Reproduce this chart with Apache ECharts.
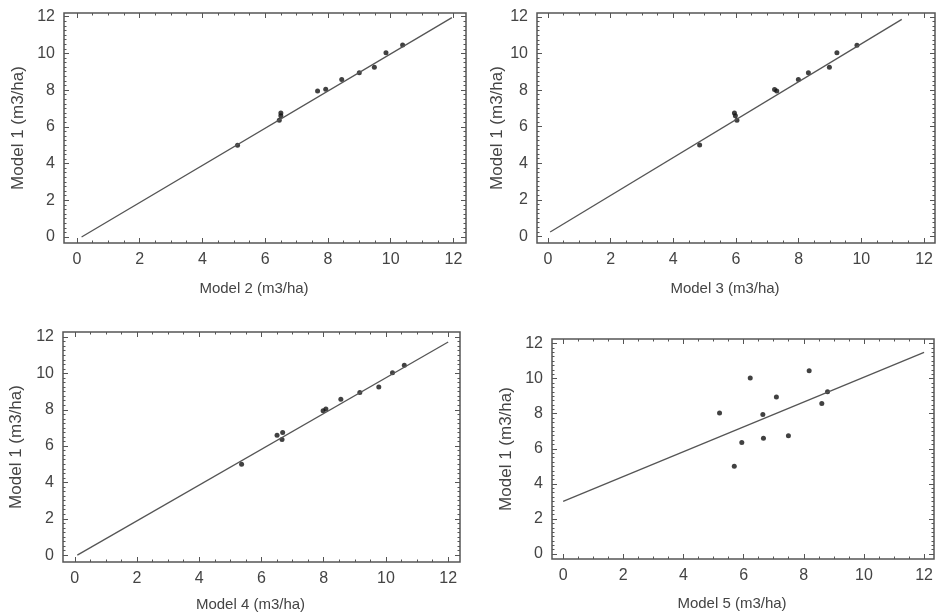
<!DOCTYPE html>
<html>
<head>
<meta charset="utf-8">
<script src="https://cdn.jsdelivr.net/npm/echarts@6/dist/echarts.min.js"></script>
<style>
  html, body { margin: 0; padding: 0; background: #fff; }
  #chart { width: 937px; height: 616px; }
</style>
</head>
<body>
<div id="chart"></div>
<script>
  // Model 1 (y) values, the same for every panel
  var model1 = [5.0, 6.36, 6.6, 6.75, 7.95, 8.04, 8.58, 8.95, 9.25, 10.04, 10.45];
  // other models (x), same order as model1
  var model2 = [5.12, 6.45, 6.5, 6.5, 7.67, 7.93, 8.44, 9.0, 9.48, 9.85, 10.38];
  var model3 = [4.84, 6.03, 5.98, 5.95, 7.3, 7.23, 7.99, 8.31, 8.98, 9.22, 9.86];
  var model4 = [5.36, 6.66, 6.5, 6.68, 7.98, 8.07, 8.55, 9.16, 9.77, 10.21, 10.59];
  var model5 = [5.69, 5.94, 6.66, 7.49, 6.64, 5.2, 8.6, 7.09, 8.79, 6.22, 8.18];

  // fitted lines, end points
  var fit2 = [[0.15, 0], [11.95, 11.95]];
  var fit3 = [[0.07, 0.24], [11.29, 11.87]];
  var fit4 = [[0.08, 0], [12.0, 11.73]];
  var fit5 = [[0, 3.0], [12.0, 11.5]];

  var tickLabels = [0, 2, 4, 6, 8, 10, 12];

  var xMinor = [], yMinor = [];
  for (var t = 0; t <= 12; t += 0.5) xMinor.push(t);
  for (var t = 0; t <= 12; t += 0.25) yMinor.push(t);

  var font = "'Liberation Sans', Arial, sans-serif";
  var ink = '#444';

  var panels = [
    {x: model2, fit: fit2, name: 'Model 2 (m3/ha)', grid: {left: 64, top: 13, width: 402, height: 230},
      xr: [-0.41, 12.4], yr: [-0.33, 12.2], xGap: 38, yGap: 37},
    {x: model3, fit: fit3, name: 'Model 3 (m3/ha)', grid: {left: 537, top: 13, width: 398, height: 230},
      xr: [-0.35, 12.35], yr: [-0.36, 12.22], xGap: 38, yGap: 28},
    {x: model4, fit: fit4, name: 'Model 4 (m3/ha)', grid: {left: 63, top: 332, width: 397, height: 230},
      xr: [-0.38, 12.38], yr: [-0.38, 12.28], xGap: 35, yGap: 38},
    {x: model5, fit: fit5, name: 'Model 5 (m3/ha)', grid: {left: 552, top: 339, width: 382, height: 220},
      xr: [-0.37, 12.33], yr: [-0.28, 12.26], xGap: 37, yGap: 37}
  ];

  // one axis side: main (labels + major ticks) or minor ticks only
  function axis(g, pos, range, ticks, len, labels, extra) {
    var a = {
      type: 'value', gridIndex: g, position: pos, min: range[0], max: range[1],
      axisLine: {show: false, onZero: false},
      splitLine: {show: false},
      axisTick: {show: true, inside: true, length: len, customValues: ticks,
        lineStyle: {color: '#555', width: 1}},
      axisLabel: labels ? {customValues: tickLabels, color: ink, fontFamily: font, fontSize: 16, margin: 9}
        : {show: false}
    };
    return Object.assign(a, extra || {});
  }

  var grids = [], xAxes = [], yAxes = [], series = [];
  panels.forEach(function (p, i) {
    grids.push(Object.assign({show: true, borderColor: '#555', borderWidth: 1.5}, p.grid));
    xAxes.push(axis(i, 'bottom', p.xr, tickLabels, 5, true, {
      name: p.name, nameLocation: 'middle', nameGap: p.xGap,
      nameTextStyle: {color: ink, fontFamily: font, fontSize: 15, padding: [0, 22, 0, 0]}
    }));
    xAxes.push(axis(i, 'bottom', p.xr, xMinor, 2.5, false));
    xAxes.push(axis(i, 'top', p.xr, tickLabels, 5, false));
    xAxes.push(axis(i, 'top', p.xr, xMinor, 2.5, false));
    yAxes.push(axis(i, 'left', p.yr, tickLabels, 5, true, {
      name: 'Model 1 (m3/ha)', nameLocation: 'middle', nameGap: p.yGap,
      nameTextStyle: {color: ink, fontFamily: font, fontSize: 17}
    }));
    yAxes.push(axis(i, 'left', p.yr, yMinor, 2.5, false));
    yAxes.push(axis(i, 'right', p.yr, tickLabels, 5, false));
    yAxes.push(axis(i, 'right', p.yr, yMinor, 2.5, false));

    series.push({
      type: 'line', xAxisIndex: i * 4, yAxisIndex: i * 4, data: p.fit,
      showSymbol: false, lineStyle: {color: '#555', width: 1.3}, silent: true
    });
    series.push({
      type: 'scatter', xAxisIndex: i * 4, yAxisIndex: i * 4,
      data: p.x.map(function (v, k) { return [v, model1[k]]; }),
      symbolSize: 5, itemStyle: {color: '#111'}
    });
  });

  var myChart = echarts.init(document.getElementById('chart'));
  myChart.setOption({
    animation: false,
    backgroundColor: '#fff',
    grid: grids,
    xAxis: xAxes,
    yAxis: yAxes,
    series: series
  });
</script>
</body>
</html>
